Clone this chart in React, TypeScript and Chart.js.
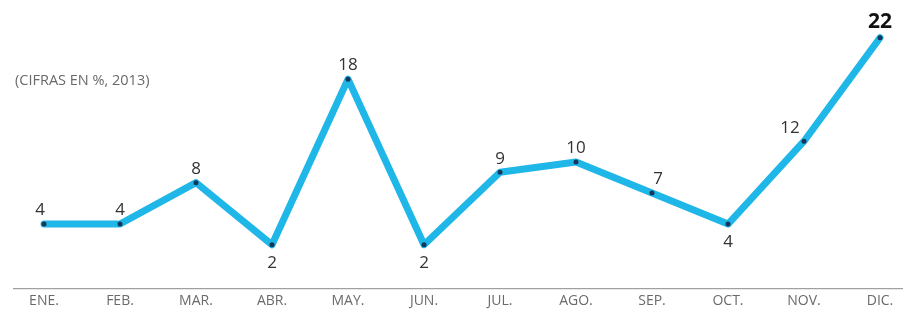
import React, { useEffect, useRef } from "react";
import { Chart, registerables } from "chart.js";

Chart.register(...registerables);

const months = ["ENE.", "FEB.", "MAR.", "ABR.", "MAY.", "JUN.", "JUL.", "AGO.", "SEP.", "OCT.", "NOV.", "DIC."];
const values = [4, 4, 8, 2, 18, 2, 9, 10, 7, 4, 12, 22];
const subtitle = "(CIFRAS EN %, 2013)";
// label placement per point: "a" above, "b" below, "al" above-left, "ar" above-right
const labelPlace = ["a", "a", "a", "b", "a", "b", "a", "a", "ar", "b", "al", "a"];

const labelsPlugin = {
  id: "customLabels",
  afterDraw(chart: any) {
    const ctx = chart.ctx;
    const area = chart.chartArea;
    const meta = chart.getDatasetMeta(0);
    ctx.save();
    // axis line
    ctx.strokeStyle = "#8a8a8a";
    ctx.lineWidth = 1;
    ctx.beginPath();
    ctx.moveTo(13, area.bottom + 0.5);
    ctx.lineTo(903, area.bottom + 0.5);
    ctx.stroke();
    // subtitle
    ctx.fillStyle = "#6a6a6a";
    ctx.font = "14.5px 'Open Sans', sans-serif";
    ctx.textAlign = "left";
    ctx.textBaseline = "middle";
    ctx.fillText(subtitle, 15, 81);
    // value labels
    meta.data.forEach((pt: any, i: number) => {
      const v = values[i];
      const last = i === values.length - 1;
      ctx.font = last ? "bold 21px 'Open Sans', sans-serif" : "17px 'Open Sans', sans-serif";
      ctx.fillStyle = last ? "#111" : "#333";
      ctx.textAlign = "center";
      const place = labelPlace[i];
      let x = pt.x;
      let y = pt.y;
      if (place === "b") {
        ctx.textBaseline = "top";
        y = pt.y + 10;
      } else {
        ctx.textBaseline = "bottom";
        y = pt.y - 5;
        if (place === "al") x = pt.x - 14;
        if (place === "ar") x = pt.x + 6;
        if (i === 0) x = pt.x - 4;
      }
      ctx.fillText(String(v), x, y);
    });
    ctx.restore();
  },
};

export default function App() {
  const ref = useRef<HTMLCanvasElement | null>(null);
  useEffect(() => {
    if (!ref.current) return;
    const chart = new Chart(ref.current, {
      type: "line",
      data: {
        labels: months,
        datasets: [
          {
            data: values,
            borderColor: "#1fb6e8",
            borderWidth: 7,
            borderJoinStyle: "round",
            borderCapStyle: "round",
            pointRadius: 2.5,
            pointBackgroundColor: "#17375a",
            pointBorderWidth: 0,
            tension: 0,
          },
        ],
      },
      options: {
        animation: false,
        responsive: false,
        maintainAspectRatio: false,
        layout: { padding: { left: 44, right: 23, top: 16, bottom: -3 } },
        plugins: { legend: { display: false }, tooltip: { enabled: false }, title: { display: false } },
        scales: {
          x: {
            offset: false,
            grid: { display: false, drawTicks: false },
            border: { display: false },
            ticks: { color: "#6a6a6a", font: { family: "'Open Sans', sans-serif", size: 14 }, padding: 4, maxRotation: 0, autoSkip: false },
          },
          y: {
            display: false,
            min: -2.2,
            max: 24.1,
          },
        },
      },
      plugins: [labelsPlugin],
    });
    return () => chart.destroy();
  }, []);
  return (
    <div style={{ position: "absolute", left: 0, top: 0, width: 903, height: 310, background: "#fff" }}>
      <canvas ref={ref} width={903} height={310} />
    </div>
  );
}
